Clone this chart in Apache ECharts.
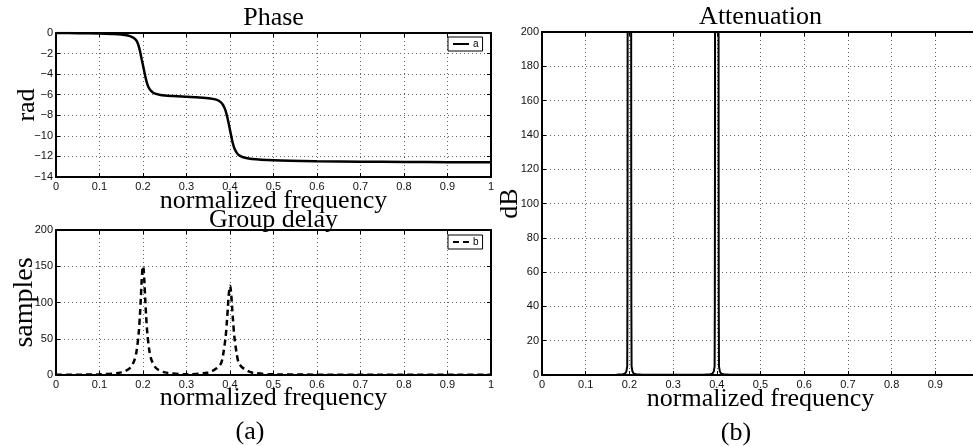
<!DOCTYPE html>
<html>
<head>
<meta charset="utf-8">
<script src="https://cdn.jsdelivr.net/npm/echarts@6/dist/echarts.min.js"></script>
<style>
  html, body { margin: 0; padding: 0; background: #fff; }
  #chart { width: 973px; height: 446px; }
</style>
</head>
<body>
<div id="chart"></div>
<script>
// phase response: [normalized frequency, rad]
const phase = [
  [0, 0], [0.05, -0.02], [0.1, -0.05], [0.13, -0.1], [0.15, -0.15], [0.165, -0.25],
  [0.175, -0.4], [0.182, -0.6], [0.187, -0.9], [0.191, -1.4], [0.194, -1.95], [0.197, -2.55],
  [0.2, -3.14], [0.203, -3.75], [0.206, -4.35], [0.209, -4.85], [0.213, -5.3], [0.218, -5.6],
  [0.225, -5.85], [0.24, -6.02], [0.27, -6.13], [0.3, -6.2], [0.33, -6.27], [0.355, -6.37],
  [0.37, -6.5], [0.378, -6.7], [0.384, -7.0], [0.389, -7.45], [0.393, -8.05], [0.397, -8.8],
  [0.4, -9.42], [0.403, -10.05], [0.406, -10.65], [0.41, -11.2], [0.415, -11.6], [0.42, -11.85],
  [0.43, -12.08], [0.45, -12.25], [0.5, -12.37], [0.6, -12.46], [0.7, -12.51], [0.8, -12.54],
  [0.9, -12.56], [1, -12.57]
];

// group delay: [normalized frequency, samples]
const groupDelay = [
  [0, 0.3], [0.1, 0.9], [0.15, 3.6], [0.17, 9.5], [0.18, 20], [0.185, 32], [0.19, 57],
  [0.193, 83], [0.195, 106], [0.197, 131], [0.198, 141], [0.199, 148], [0.2, 150],
  [0.201, 148], [0.202, 141], [0.203, 131], [0.205, 106], [0.207, 83], [0.21, 57],
  [0.215, 32], [0.22, 20], [0.23, 9.5], [0.25, 3.6], [0.3, 1], [0.35, 3.5], [0.37, 9.5],
  [0.38, 17], [0.385, 31], [0.39, 53], [0.393, 75], [0.395, 92], [0.397, 110], [0.399, 121],
  [0.4, 123], [0.401, 121], [0.403, 110], [0.405, 92], [0.407, 75], [0.41, 53], [0.415, 31],
  [0.42, 17], [0.43, 9.5], [0.45, 3.5], [0.5, 0.9], [0.7, 0.4], [1, 0.3]
];

// attenuation: [normalized frequency, dB]
const attenuation = [
  [0, 0], [0.1, 0.05], [0.17, 0.2], [0.185, 0.4], [0.19, 0.8], [0.193, 2], [0.195, 5],
  [0.1955, 40], [0.1958, 120], [0.196, 220], [0.2, 400], [0.204, 220], [0.2042, 120],
  [0.2045, 40], [0.205, 5], [0.207, 2], [0.21, 0.8], [0.215, 0.4], [0.23, 0.2], [0.3, 0.1],
  [0.37, 0.2], [0.385, 0.4], [0.39, 0.8], [0.393, 2], [0.395, 5], [0.3955, 40],
  [0.3958, 120], [0.396, 220], [0.4, 400], [0.404, 220], [0.4042, 120], [0.4045, 40],
  [0.405, 5], [0.407, 2], [0.41, 0.8], [0.415, 0.4], [0.43, 0.2], [0.5, 0.1], [1, 0.05]
];

// axis ranges: [min, max, interval]
const freqRange = [0, 1, 0.1];
const phaseRange = [-14, 0, 2];
const delayRange = [0, 200, 50];
const attenRange = [0, 200, 20];

const serif = 'Liberation Serif';
const sans = 'Liberation Sans';

const frame = { show: true, onZero: false, lineStyle: { color: '#000', width: 2 } };
const ticks = { show: true, inside: true, length: 4, lineStyle: { color: '#000', width: 1 } };
const dots = { show: true, lineStyle: { color: '#666', type: [1, 3], width: 1 } };
const bigName = { fontFamily: serif, fontSize: 26, color: '#000' };
const tickLabel = {
  color: '#111', fontFamily: sans, fontSize: 11, margin: 4,
  formatter: v => String(v).replace('-', '\u2212')
};

function xMain(grid, name, gap) {
  return {
    type: 'value', gridIndex: grid, position: 'bottom',
    min: freqRange[0], max: freqRange[1], interval: freqRange[2],
    name: name, nameLocation: 'middle', nameGap: gap, nameMoveOverlap: false, nameTextStyle: bigName,
    axisLine: frame, axisTick: ticks, splitLine: dots, axisLabel: tickLabel
  };
}
function xTop(grid, name, gap) {
  return {
    type: 'value', gridIndex: grid, position: 'top',
    min: freqRange[0], max: freqRange[1], interval: freqRange[2],
    name: name, nameLocation: 'middle', nameGap: gap, nameMoveOverlap: false, nameTextStyle: bigName,
    axisLine: frame, axisTick: ticks, splitLine: { show: false }, axisLabel: { show: false }
  };
}
function yMain(grid, range, name, gap, size) {
  return {
    type: 'value', gridIndex: grid, position: 'left',
    min: range[0], max: range[1], interval: range[2],
    name: name, nameLocation: 'middle', nameGap: gap, nameMoveOverlap: false,
    nameTextStyle: Object.assign({}, bigName, { fontSize: size }),
    axisLine: frame, axisTick: ticks, splitLine: dots,
    axisLabel: Object.assign({}, tickLabel, { margin: 3 })
  };
}
function yRight(grid, range) {
  return {
    type: 'value', gridIndex: grid, position: 'right',
    min: range[0], max: range[1], interval: range[2],
    axisLine: frame, axisTick: ticks, splitLine: { show: false }, axisLabel: { show: false }
  };
}

const legendBox = {
  orient: 'horizontal', itemWidth: 16, itemHeight: 8, itemGap: 4,
  padding: [2, 4], borderColor: '#000', borderWidth: 1, borderRadius: 0,
  backgroundColor: '#fff',
  itemStyle: { opacity: 0 },
  textStyle: { fontFamily: sans, fontSize: 10, color: '#000', padding: [0, 0, 0, -1] }
};

const option = {
  animation: false,
  backgroundColor: '#fff',
  grid: [
    { left: 56, top: 33, width: 435, height: 144, outerBoundsMode: 'none' },
    { left: 56, top: 230, width: 435, height: 145, outerBoundsMode: 'none' },
    { left: 542, top: 32, width: 437, height: 343, outerBoundsMode: 'none' }
  ],
  xAxis: [
    xMain(0, 'normalized frequency', 11),
    xTop(0, 'Phase', 2),
    xMain(1, 'normalized frequency', 10),
    xTop(1, 'Group delay', -3),
    xMain(2, 'normalized frequency', 11),
    xTop(2, 'Attenuation', 2)
  ],
  yAxis: [
    yMain(0, phaseRange, 'rad', 16, 26),
    yRight(0, phaseRange),
    yMain(1, delayRange, 'samples', 17, 28),
    yRight(1, delayRange),
    yMain(2, attenRange, 'dB', 19, 26)
  ],
  legend: [
    Object.assign({ data: ['a'], left: 448, top: 37 }, legendBox),
    Object.assign({ data: ['b'], left: 448, top: 235 }, legendBox)
  ],
  graphic: [
    { type: 'text', x: 250, y: 432, style: { text: '(a)', font: '26px "Liberation Serif"', fill: '#000', align: 'center', verticalAlign: 'middle', textAlign: 'center', textVerticalAlign: 'middle' } },
    { type: 'text', x: 736, y: 433, style: { text: '(b)', font: '26px "Liberation Serif"', fill: '#000', align: 'center', verticalAlign: 'middle', textAlign: 'center', textVerticalAlign: 'middle' } }
  ],
  series: [
    {
      name: 'a', type: 'line', xAxisIndex: 0, yAxisIndex: 0, data: phase,
      symbol: 'none', smooth: 0.3, lineStyle: { color: '#000', width: 2.5 }, itemStyle: { color: '#000' }
    },
    {
      name: 'b', type: 'line', xAxisIndex: 2, yAxisIndex: 2, data: groupDelay,
      symbol: 'none', smooth: 0.3, lineStyle: { color: '#000', width: 2.5, type: [6, 4] }, itemStyle: { color: '#000' }
    },
    {
      name: 'atten', type: 'line', xAxisIndex: 4, yAxisIndex: 4, data: attenuation,
      symbol: 'none', clip: true, lineStyle: { color: '#000', width: 2 }, itemStyle: { color: '#000' }
    }
  ]
};

const chart = echarts.init(document.getElementById('chart'));
chart.setOption(option);
</script>
</body>
</html>
